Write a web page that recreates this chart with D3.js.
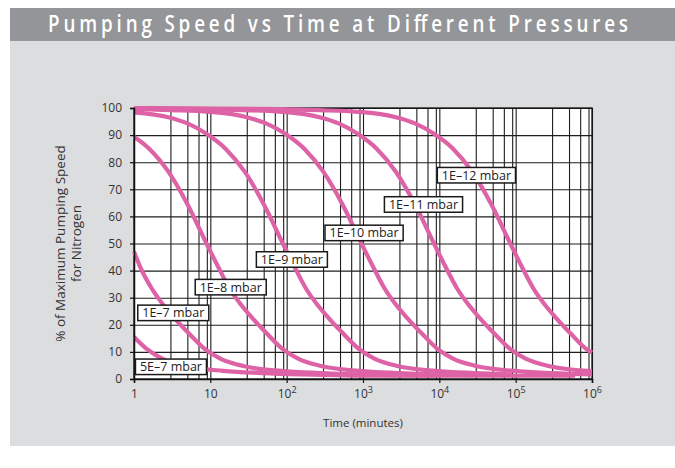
<!DOCTYPE html>
<html><head><meta charset="utf-8">
<script src="https://cdn.jsdelivr.net/npm/d3@7"></script>
<style>
html,body{margin:0;padding:0;background:#fff;}
svg{display:block;}
</style></head><body>
<svg id="chart" width="675" height="468"></svg>
<script>
// ---------- data ----------
const chartTitle = "Pumping Speed vs Time at Different Pressures";
const yTitle1 = "% of Maximum Pumping Speed";
const yTitle2 = "for Nitrogen";
const xTitle = "Time (minutes)";

const xTickValues = [1, 10, 100, 1000, 1e4, 1e5, 1e6];
const xTickBase   = ["1", "10", "10", "10", "10", "10", "10"];
const xTickExp    = ["", "", "2", "3", "4", "5", "6"];
const yTickValues = [0, 10, 20, 30, 40, 50, 60, 70, 80, 90, 100];
const gridMultipliers = [3, 5, 7, 9, 10];
const gridDecades = [1, 10, 100, 1000, 1e4, 1e5];

// time in minutes, speed in %
const time_5E7  = [1, 1.48, 2.34, 4.68, 14.8, 46.8, 148, 468, 1480, 1e4, 1e5, 6e5];
const speed_5E7 = [15.5, 11, 7.5, 4.8, 3.0, 2.2, 1.7, 1.4, 1.2, 1.2, 1.2, 1.2];

const time_1E7  = [1, 1.2, 1.7, 2.4, 3.39, 5.37, 8.51, 13.5, 26.9, 85.1, 269, 851, 2690, 8510];
const speed_1E7 = [47, 41.5, 33.5, 27.5, 22.5, 16.5, 11, 7.5, 4.8, 3.0, 2.2, 1.7, 1.4, 1.2];

const time_1E8  = [1, 1.58, 2.82, 5.01, 8.91, 12.6, 17.8, 25.1, 35.5, 56.2, 89.1, 141, 282, 891, 2820, 8910, 28200];
const speed_1E8 = [89.4, 85, 76.5, 64.5, 50, 41.5, 33.5, 27.5, 22.5, 16.5, 11, 7.5, 4.8, 3.0, 2.2, 1.7, 1.4];

const time_1E9  = [1, 2.82, 5.01, 8.91, 15.8, 28.2, 50.1, 89.1, 126, 178, 251, 355, 562, 891, 1410, 2820, 8910, 28200, 89100];
const speed_1E9 = [98.4, 96.6, 94.3, 90.5, 85, 76.5, 64.5, 50, 41.5, 33.5, 27.5, 22.5, 16.5, 11, 7.5, 4.8, 3.0, 2.2, 1.7];

const time_1E10  = [1, 3.02, 9.55, 30.2, 53.7, 95.5, 170, 302, 537, 955, 1350, 1910, 2690, 3800, 6030, 9550, 15100, 30200, 95500, 302000, 1e6];
const speed_1E10 = [99.6, 99.2, 98.6, 96.6, 94.3, 90.5, 85, 76.5, 64.5, 50, 41.5, 33.5, 27.5, 22.5, 16.5, 11, 7.5, 4.8, 3.0, 2.2, 1.7];

const time_1E11  = [1, 8.51, 26.9, 85.1, 269, 479, 851, 1510, 2690, 4790, 8510, 12000, 17000, 24000, 33900, 53700, 85100, 135000, 269000, 1e6];
const speed_1E11 = [100, 99.6, 99.2, 98.6, 96.6, 94.3, 90.5, 85, 76.5, 64.5, 50, 41.5, 33.5, 27.5, 22.5, 16.5, 11, 7.5, 4.8, 2.9];

const time_1E12  = [1, 85.1, 269, 851, 2690, 4790, 8510, 15100, 26900, 47900, 85100, 120000, 170000, 240000, 339000, 537000, 851000, 1e6];
const speed_1E12 = [100, 99.6, 99.2, 98.6, 96.6, 94.3, 90.5, 85, 76.5, 64.5, 50, 41.5, 33.5, 27.5, 22.5, 16.5, 11, 9.8];

const labelNames   = ["5E–7 mbar", "1E–7 mbar", "1E–8 mbar", "1E–9 mbar", "1E–10 mbar", "1E–11 mbar", "1E–12 mbar"];
const labelAtTime  = [3.05, 3.27, 18.5, 117, 1033, 6200, 30600];
const labelAtSpeed = [4.5, 24.4, 33.9, 44.1, 53.9, 64.4, 75.2];

// ---------- build ----------
const curves = [
  [time_5E7, speed_5E7], [time_1E7, speed_1E7], [time_1E8, speed_1E8],
  [time_1E9, speed_1E9], [time_1E10, speed_1E10], [time_1E11, speed_1E11], [time_1E12, speed_1E12]
].map(([t, v]) => t.map((d, i) => ({t: d, v: v[i]})));

const W = 675, H = 468;
const plot = {left: 134, right: 592, top: 108, bottom: 379};
const PINK = "#dd62a6";
const FONT = "'Open Sans', 'Noto Sans', sans-serif";

const svg = d3.select("#chart");

// background panel + title bar
svg.append("rect").attr("x", 10).attr("y", 41).attr("width", W - 10).attr("height", 405).attr("fill", "#dcdddf");
svg.append("rect").attr("x", 10).attr("y", 8).attr("width", W - 10).attr("height", 33).attr("fill", "#939598");
const sx = 0.8;
svg.append("g").attr("transform", `translate(338,31.5) scale(${sx},1)`)
  .append("text")
  .attr("x", 0).attr("y", 0)
  .attr("text-anchor", "middle")
  .attr("font-family", FONT)
  .attr("font-weight", 600).attr("font-size", 23.5)
  .attr("fill", "#ffffff")
  .attr("textLength", 580 / sx).attr("lengthAdjust", "spacing")
  .text(chartTitle);

const x = d3.scaleLog().domain([1, 1e6]).range([plot.left, plot.right]);
const y = d3.scaleLinear().domain([0, 100]).range([plot.bottom, plot.top]);

// plot background
svg.append("rect").attr("x", plot.left).attr("y", plot.top)
  .attr("width", plot.right - plot.left).attr("height", plot.bottom - plot.top).attr("fill", "#fff");

// grid
const vGrid = [];
gridDecades.forEach(d => gridMultipliers.forEach(m => vGrid.push(d * m)));
svg.append("g").attr("transform", `translate(0,${plot.bottom})`)
  .call(d3.axisBottom(x).tickValues(vGrid).tickSize(-(plot.bottom - plot.top)).tickFormat(""))
  .call(g => g.select(".domain").remove())
  .call(g => g.selectAll("line").attr("stroke", "#1e1e1e").attr("stroke-width", 1.1));
svg.append("g").attr("transform", `translate(${plot.left},0)`)
  .call(d3.axisLeft(y).tickValues(yTickValues).tickSize(-(plot.right - plot.left)).tickFormat(""))
  .call(g => g.select(".domain").remove())
  .call(g => g.selectAll("line").attr("stroke", "#1e1e1e").attr("stroke-width", 1.1));

// border
svg.append("rect").attr("x", plot.left).attr("y", plot.top)
  .attr("width", plot.right - plot.left).attr("height", plot.bottom - plot.top)
  .attr("fill", "none").attr("stroke", "#111").attr("stroke-width", 1.3);

// curves
const line = d3.line().x(d => x(d.t)).y(d => y(d.v)).curve(d3.curveMonotoneX);
svg.append("g").selectAll("path").data(curves).join("path")
  .attr("d", line).attr("fill", "none").attr("stroke", PINK)
  .attr("stroke-width", 4.2).attr("stroke-linecap", "butt").attr("stroke-linejoin", "round");

// axes
const yAxis = svg.append("g").attr("transform", `translate(${plot.left},0)`)
  .call(d3.axisLeft(y).tickValues(yTickValues).tickSize(4).tickPadding(8));
yAxis.select(".domain").attr("stroke", "#111").attr("stroke-width", 1.5);
yAxis.selectAll("line").attr("stroke", "#111").attr("stroke-width", 1.2);
yAxis.selectAll("text").attr("font-family", FONT).attr("font-size", 12).attr("fill", "#333");

const xAxis = svg.append("g").attr("transform", `translate(0,${plot.bottom})`)
  .call(d3.axisBottom(x).tickValues(xTickValues).tickSize(4).tickFormat(""));
xAxis.select(".domain").attr("stroke", "#111").attr("stroke-width", 1.5);
xAxis.selectAll("line").attr("stroke", "#111").attr("stroke-width", 1.2);
xAxis.selectAll(".tick").each(function(d, i) {
  const t = d3.select(this).append("text")
    .attr("y", 19).attr("fill", "#333").attr("text-anchor", "middle")
    .attr("font-family", FONT).attr("font-size", 12);
  t.append("tspan").text(xTickBase[i]);
  if (xTickExp[i]) t.append("tspan").attr("dy", -5).attr("font-size", 9).text(xTickExp[i]);
});

// axis titles
svg.append("text").attr("x", (plot.left + plot.right) / 2).attr("y", 427)
  .attr("text-anchor", "middle").attr("font-family", FONT).attr("font-size", 11.5).attr("fill", "#333")
  .text(xTitle);
const yc = (plot.top + plot.bottom) / 2;
[[yTitle1, 65], [yTitle2, 81]].forEach(([txt, bx]) => {
  svg.append("text").attr("transform", `translate(${bx},${yc}) rotate(-90)`)
    .attr("text-anchor", "middle").attr("font-family", FONT).attr("font-size", 13.5).attr("fill", "#333")
    .text(txt);
});

// labels
const lg = svg.append("g");
labelNames.forEach((name, i) => {
  const g = lg.append("g").attr("transform", `translate(${x(labelAtTime[i])},${y(labelAtSpeed[i])})`);
  const r = g.append("rect");
  const t = g.append("text").attr("text-anchor", "middle").attr("dy", "0.36em")
    .attr("font-family", FONT).attr("font-size", 12.5).attr("fill", "#222").text(name);
  const bb = t.node().getBBox();
  const w = bb.width + 9, h = 15.5;
  r.attr("x", -w / 2).attr("y", -h / 2).attr("width", w).attr("height", h)
    .attr("fill", "#fff").attr("stroke", "#1a1a1a").attr("stroke-width", 1.5);
});
</script>
</body></html>
